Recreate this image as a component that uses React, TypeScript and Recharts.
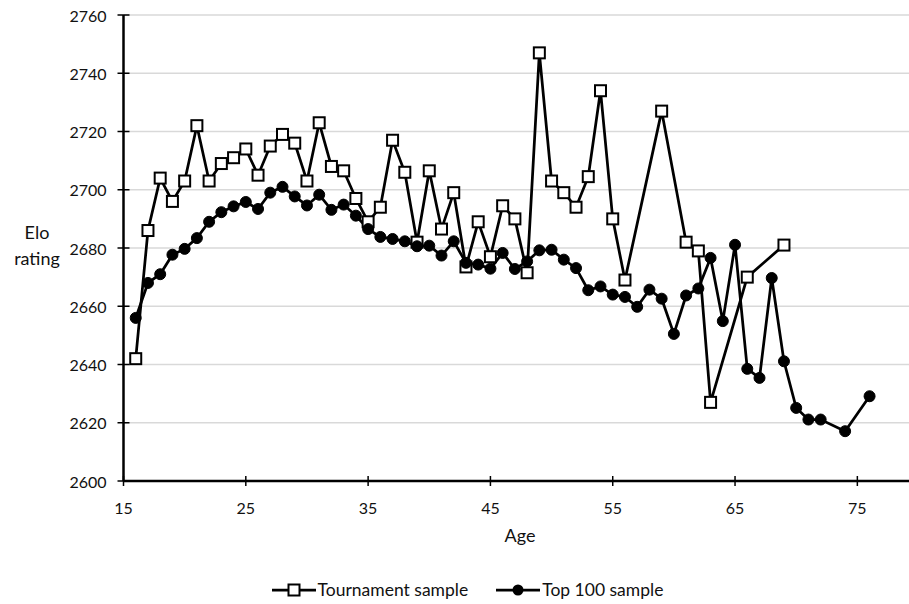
import React from 'react';
import { LineChart, Line, XAxis, YAxis, CartesianGrid, Legend, Label } from 'recharts';

const tournamentAges = [16,17,18,19,20,21,22,23,24,25,26,27,28,29,30,31,32,33,34,35,36,37,38,39,40,41,42,43,44,45,46,47,48,49,50,51,52,53,54,55,56,59,61,62,63,66,69];
const tournamentElo = [2642,2686,2704,2696,2703,2722,2703,2709,2711,2714,2705,2715,2719,2716,2703,2723,2708,2706.5,2697,2689,2694,2717,2706,2682,2706.5,2686.5,2699,2673.5,2689,2677,2694.5,2690,2671.5,2747,2703,2699,2694,2704.5,2734,2690,2669,2727,2682,2679,2627,2670,2681];

const top100Ages = [16,17,18,19,20,21,22,23,24,25,26,27,28,29,30,31,32,33,34,35,36,37,38,39,40,41,42,43,44,45,46,47,48,49,50,51,52,53,54,55,56,57,58,59,60,61,62,63,64,65,66,67,68,69,70,71,72,74,76];
const top100Elo = [2656,2668,2671,2677.7,2679.7,2683.4,2689,2692.3,2694.3,2695.8,2693.4,2699,2701,2697.7,2694.6,2698.3,2693.1,2694.9,2691.1,2686.5,2683.8,2683.1,2682.3,2680.6,2680.8,2677.4,2682.3,2674.9,2674.3,2672.9,2678.3,2672.8,2675.4,2679.2,2679.4,2676,2673.1,2665.5,2666.8,2664,2663.2,2659.8,2665.7,2662.6,2650.5,2663.7,2666.1,2676.6,2654.9,2681.1,2638.5,2635.4,2669.7,2641.1,2625.1,2621.1,2621.1,2617.1,2629.1];

const xTicks = [15, 25, 35, 45, 55, 65, 75];
const yTicks = [2600, 2620, 2640, 2660, 2680, 2700, 2720, 2740, 2760];
const seriesNames = ['Tournament sample', 'Top 100 sample'];

const tournamentData = tournamentAges.map((a, i) => ({ age: a, elo: tournamentElo[i] }));
const top100Data = top100Ages.map((a, i) => ({ age: a, elo: top100Elo[i] }));

const FONT = 'Lato, "Open Sans", sans-serif';
const TEXT = '#111';

const SquareDot = (props: any) => {
  const { cx, cy } = props;
  if (cx == null || cy == null) return null;
  return <rect x={cx - 5.5} y={cy - 5.5} width={11} height={11} fill="#fff" stroke="#000" strokeWidth={2} />;
};

const CircleDot = (props: any) => {
  const { cx, cy } = props;
  if (cx == null || cy == null) return null;
  return <circle cx={cx} cy={cy} r={5.5} fill="#000" stroke="#000" strokeWidth={1} />;
};

const YTick = (props: any) => {
  const { x, y, payload } = props;
  return (
    <g>
      <line x1={x - 6} x2={x + 6} y1={y} y2={y} stroke="#000" strokeWidth={1.5} />
      <text x={x - 17} y={y} textAnchor="end" dominantBaseline="central" fontFamily={FONT} fontSize={16} fill={TEXT}>
        {payload.value}
      </text>
    </g>
  );
};

const XTick = (props: any) => {
  const { x, y, payload } = props;
  return (
    <g>
      <line x1={x} x2={x} y1={y - 5} y2={y + 5} stroke="#000" strokeWidth={1.5} />
      <text x={x} y={y + 26} textAnchor="middle" dominantBaseline="central" fontFamily={FONT} fontSize={16} fill={TEXT}>
        {payload.value}
      </text>
    </g>
  );
};

const LegendContent = () => (
  <div style={{ display: 'flex', justifyContent: 'center', alignItems: 'center', fontFamily: FONT, fontSize: 17.5, color: TEXT }}>
    <div style={{ display: 'flex', alignItems: 'center', marginRight: 28 }}>
      <svg width={44} height={14}>
        <line x1={0} x2={44} y1={7} y2={7} stroke="#000" strokeWidth={2.75} />
        <rect x={16.5} y={1.5} width={11} height={11} fill="#fff" stroke="#000" strokeWidth={2} />
      </svg>
      <span style={{ marginLeft: 2 }}>{seriesNames[0]}</span>
    </div>
    <div style={{ display: 'flex', alignItems: 'center' }}>
      <svg width={44} height={14}>
        <line x1={0} x2={44} y1={7} y2={7} stroke="#000" strokeWidth={2.75} />
        <circle cx={22} cy={7} r={5.5} fill="#000" />
      </svg>
      <span style={{ marginLeft: 2 }}>{seriesNames[1]}</span>
    </div>
  </div>
);

export default function App() {
  return (
    <div style={{ position: 'absolute', left: 0, top: 0, width: 909, height: 604, overflow: 'hidden', background: '#fff' }}>
      <LineChart width={919} height={604} margin={{ top: 15, right: 0.5, bottom: 83, left: 0 }}>
        <CartesianGrid horizontal vertical={false} stroke="#d9d9d9" strokeWidth={1.5} />
        <XAxis
          type="number"
          dataKey="age"
          domain={[15, 80]}
          ticks={xTicks}
          allowDataOverflow
          height={40}
          stroke="#000"
          strokeWidth={2.5}
          tickLine={false}
          tickSize={0}
          tickMargin={0}
          tick={<XTick />}
        >
          <Label
            content={(p: any) => {
              const vb = p.viewBox;
              return (
                <text x={vb.x + vb.width / 2 - 1} y={535} textAnchor="middle" dominantBaseline="central" fontFamily={FONT} fontSize={18} fill={TEXT}>
                  Age
                </text>
              );
            }}
          />
        </XAxis>
        <YAxis
          type="number"
          domain={[2600, 2760]}
          ticks={yTicks}
          width={123.5}
          stroke="#000"
          strokeWidth={2.5}
          tickLine={false}
          tickSize={0}
          tickMargin={0}
          tick={<YTick />}
        >
          <Label
            content={() => (
              <text x={37} textAnchor="middle" fontFamily={FONT} fontSize={18} fill={TEXT}>
                <tspan x={37} y={232} dominantBaseline="central">Elo</tspan>
                <tspan x={37} y={258} dominantBaseline="central">rating</tspan>
              </text>
            )}
          />
        </YAxis>
        <Legend
          layout="horizontal"
          verticalAlign="middle"
          align="center"
          content={<LegendContent />}
          wrapperStyle={{ position: 'absolute', top: 579, left: 13, width: 909, height: 22 }}
        />
        <Line
          data={tournamentData}
          dataKey="elo"
          name={seriesNames[0]}
          stroke="#000"
          strokeWidth={2.75}
          dot={<SquareDot />}
          activeDot={false}
          isAnimationActive={false}
        />
        <Line
          data={top100Data}
          dataKey="elo"
          name={seriesNames[1]}
          stroke="#000"
          strokeWidth={2.75}
          dot={<CircleDot />}
          activeDot={false}
          isAnimationActive={false}
        />
      </LineChart>
    </div>
  );
}
